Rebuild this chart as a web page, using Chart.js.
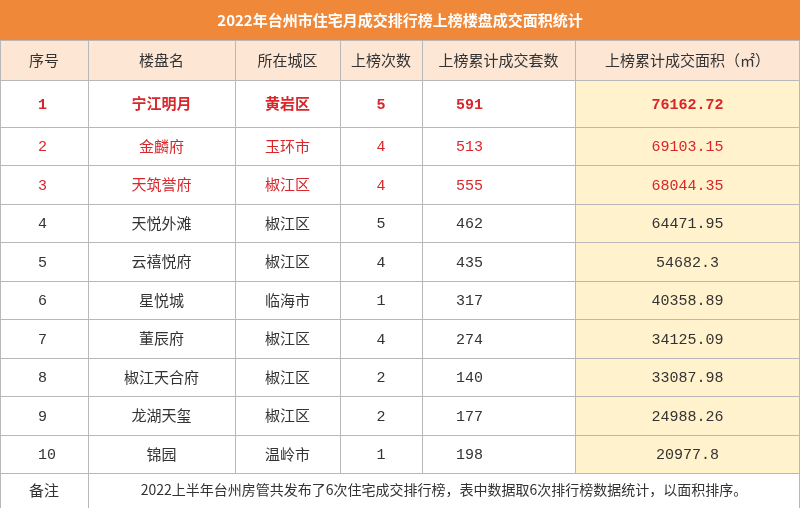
<!DOCTYPE html>
<html><head><meta charset="utf-8">
<script src="https://cdn.jsdelivr.net/npm/chart.js@4"></script>
<style>html,body{margin:0;padding:0;background:#fff}#w{width:800px;height:508px}</style>
</head><body><div id="w"><canvas id="c"></canvas></div>
<script>
const title = "2022年台州市住宅月成交排行榜上榜楼盘成交面积统计";
const headers = ["序号","楼盘名","所在城区","上榜次数","上榜累计成交套数","上榜累计成交面积（㎡）"];
const ranks = ["1","2","3","4","5","6","7","8","9","10"];
const names = ["宁江明月","金麟府","天筑誉府","天悦外滩","云禧悦府","星悦城","董辰府","椒江天合府","龙湖天玺","锦园"];
const districts = ["黄岩区","玉环市","椒江区","椒江区","椒江区","临海市","椒江区","椒江区","椒江区","温岭市"];
const times = [5,4,4,5,4,1,4,2,2,1];
const units = [591,513,555,462,435,317,274,140,177,198];
const areas = ["76162.72","69103.15","68044.35","64471.95","54682.3","40358.89","34125.09","33087.98","24988.26","20977.8"];
const note = ["备注","2022上半年台州房管共发布了6次住宅成交排行榜，表中数据取6次排行榜数据统计，以面积排序。"];

const colEdges = [0,88,235,340,422,575,800];
const rowEdges = [0,40,80,127,165,204,242,281,319,358,396,435,473,508];
const cjk = '"Noto Sans CJK SC", sans-serif';
const num = '"Liberation Mono","DejaVu Sans Mono", monospace';

const tablePlugin = {
  id:'table',
  afterDraw(chart){
    const ctx = chart.ctx, xs = chart.scales.x, ys = chart.scales.y;
    const X = v=>xs.getPixelForValue(v), Y = v=>ys.getPixelForValue(v);
    ctx.save();
    ctx.fillStyle="#f0883a"; ctx.fillRect(X(0),Y(0),X(800)-X(0),Y(40)-Y(0));
    ctx.fillStyle="#fde6d4"; ctx.fillRect(X(0),Y(40),X(800)-X(0),Y(80)-Y(40));
    ctx.fillStyle="#fff2cc"; ctx.fillRect(X(575),Y(80),X(800)-X(575),Y(473)-Y(80));
    ctx.strokeStyle="#b8b8b8"; ctx.lineWidth=1;
    for(let i=1;i<rowEdges.length;i++){const y=Math.round(Y(rowEdges[i]))+0.5;ctx.beginPath();ctx.moveTo(X(0),y);ctx.lineTo(X(800),y);ctx.stroke();}
    for(let j=0;j<colEdges.length;j++){
      const x=Math.min(Math.round(X(colEdges[j]))+0.5,X(800)-0.5);
      const yEnd = (j===0||j===colEdges.length-1)?Y(508):Y(473);
      ctx.beginPath();ctx.moveTo(x,Y(40));ctx.lineTo(x,yEnd);ctx.stroke();
    }
    ctx.beginPath();ctx.moveTo(X(88)+0.5,Y(473));ctx.lineTo(X(88)+0.5,Y(508));ctx.stroke();
    ctx.textBaseline="middle"; ctx.textAlign="center";
    ctx.fillStyle="#fff"; ctx.font="bold 15px "+cjk;
    ctx.fillText(title,X(400),Y(20));
    ctx.fillStyle="#333"; ctx.font="15px "+cjk;
    headers.forEach((h,j)=>ctx.fillText(h,(X(colEdges[j])+X(colEdges[j+1]))/2,Y(60)));
    const cx=j=>(X(colEdges[j])+X(colEdges[j+1]))/2;
    for(let i=0;i<ranks.length;i++){
      const yc=(Y(rowEdges[i+2])+Y(rowEdges[i+3]))/2;
      const red=i<3, bold=i===0;
      ctx.fillStyle=red?"#d8262b":"#333";
      const fw=bold?"bold ":"";
      ctx.textBaseline="middle";
      ctx.textAlign="center";
      ctx.font=fw+"15px "+cjk; ctx.fillText(names[i],cx(1),yc); ctx.fillText(districts[i],cx(2),yc);
      ctx.textBaseline="alphabetic";
      const yb=yc+5;
      ctx.font=fw+"15px "+num;
      ctx.textAlign="left"; ctx.fillText(ranks[i],X(38),yb);
      ctx.textAlign="center"; ctx.fillText(String(times[i]),cx(3),yb);
      ctx.textAlign="left"; ctx.fillText(String(units[i]),X(456),yb);
      ctx.textAlign="center"; ctx.fillText(areas[i],cx(5),yb);
    }
    ctx.textBaseline="middle";
    ctx.fillStyle="#333"; ctx.font="15px "+cjk;
    ctx.fillText(note[0],X(44),Y(490));
    ctx.font="14px "+cjk; ctx.fillText(note[1],X(444),Y(490));
    ctx.restore();
  }
};
new Chart(document.getElementById('c'),{
  type:'scatter',
  data:{datasets:[{data:[],pointRadius:0}]},
  options:{responsive:true,maintainAspectRatio:false,animation:false,
    layout:{padding:0},
    plugins:{legend:{display:false},tooltip:{enabled:false}},
    scales:{x:{type:'linear',min:0,max:800,display:false},
            y:{type:'linear',min:0,max:508,reverse:true,display:false}}},
  plugins:[tablePlugin]
});
</script></body></html>
